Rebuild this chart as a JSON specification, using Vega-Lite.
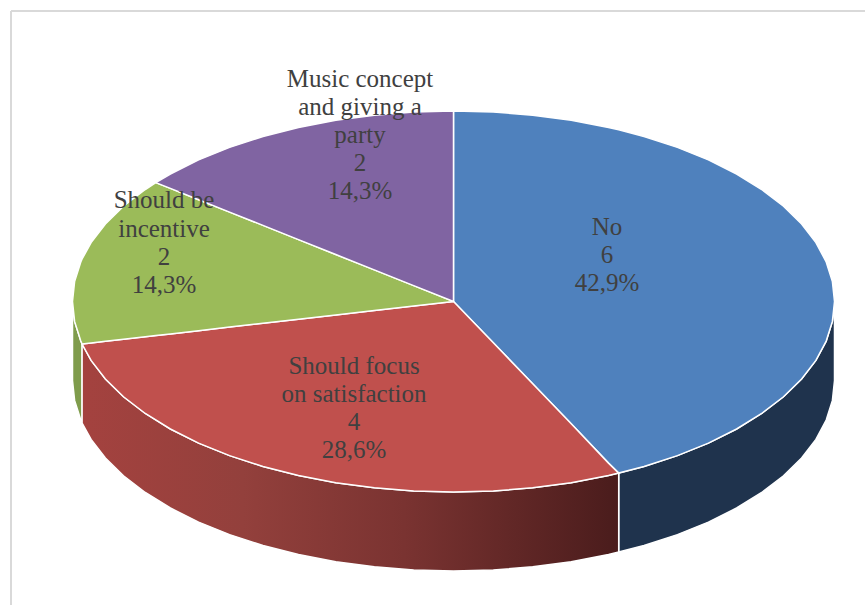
{
  "$schema": "https://vega.github.io/schema/vega-lite/v6.json",
  "width": 865,
  "height": 605,
  "padding": 0,
  "autosize": {"type": "none"},
  "background": "white",
  "view": {"stroke": null},
  "datasets": {
    "frame": [
      {"x": 10.5, "x2": 865, "y": 10.5, "y2": 10.5},
      {"x": 10.5, "x2": 10.5, "y": 10.5, "y2": 605}
    ],
    "walls": [
      {"slice": "No", "x": 618.2, "y": 472.6, "y2": 551.6},
      {"slice": "No", "x": 643.5, "y": 466, "y2": 545},
      {"slice": "No", "x": 676.9, "y": 455.1, "y2": 534.1},
      {"slice": "No", "x": 707.9, "y": 442.6, "y2": 521.6},
      {"slice": "No", "x": 736.1, "y": 428.5, "y2": 507.5},
      {"slice": "No", "x": 761.2, "y": 413, "y2": 492},
      {"slice": "No", "x": 783, "y": 396.3, "y2": 475.3},
      {"slice": "No", "x": 801.1, "y": 378.5, "y2": 457.5},
      {"slice": "No", "x": 815.4, "y": 359.9, "y2": 438.9},
      {"slice": "No", "x": 825.7, "y": 340.6, "y2": 419.6},
      {"slice": "No", "x": 831.9, "y": 320.9, "y2": 399.9},
      {"slice": "No", "x": 834, "y": 301, "y2": 380},
      {"slice": "Should be incentive", "x": 72, "y": 301, "y2": 380},
      {"slice": "Should be incentive", "x": 74.1, "y": 320.9, "y2": 399.9},
      {"slice": "Should be incentive", "x": 80.3, "y": 340.6, "y2": 419.6},
      {"slice": "Should be incentive", "x": 81.6, "y": 343.5, "y2": 422.5}
    ],
    "satisfactionWall": [
      {"x": 81.6, "y": 343.5, "y2": 422.5},
      {"x": 90.6, "y": 359.9, "y2": 438.9},
      {"x": 104.9, "y": 378.5, "y2": 457.5},
      {"x": 123, "y": 396.3, "y2": 475.3},
      {"x": 144.8, "y": 413, "y2": 492},
      {"x": 169.9, "y": 428.5, "y2": 507.5},
      {"x": 198.1, "y": 442.6, "y2": 521.6},
      {"x": 229.1, "y": 455.1, "y2": 534.1},
      {"x": 262.5, "y": 466, "y2": 545},
      {"x": 298, "y": 475, "y2": 554},
      {"x": 335.3, "y": 482.2, "y2": 561.2},
      {"x": 373.8, "y": 487.3, "y2": 566.3},
      {"x": 413.2, "y": 490.5, "y2": 569.5},
      {"x": 453, "y": 491.5, "y2": 570.5},
      {"x": 492.8, "y": 490.5, "y2": 569.5},
      {"x": 532.2, "y": 487.3, "y2": 566.3},
      {"x": 570.7, "y": 482.2, "y2": 561.2},
      {"x": 608, "y": 475, "y2": 554},
      {"x": 618.2, "y": 472.6, "y2": 551.6}
    ],
    "slices": [
      {"slice": "No", "x": 453, "y": 110.5, "y2": 301},
      {"slice": "No", "x": 492.8, "y": 111.5, "y2": 342.3},
      {"slice": "No", "x": 532.2, "y": 114.7, "y2": 383.3},
      {"slice": "No", "x": 570.7, "y": 119.8, "y2": 423.3},
      {"slice": "No", "x": 608, "y": 127, "y2": 462.6},
      {"slice": "No", "x": 618.2, "y": 129.3, "y2": 472.6},
      {"slice": "No", "x": 643.5, "y": 136, "y2": 466},
      {"slice": "No", "x": 676.9, "y": 146.9, "y2": 455.1},
      {"slice": "No", "x": 707.9, "y": 159.4, "y2": 442.6},
      {"slice": "No", "x": 736.1, "y": 173.5, "y2": 428.5},
      {"slice": "No", "x": 761.2, "y": 189, "y2": 413},
      {"slice": "No", "x": 783, "y": 205.7, "y2": 396.3},
      {"slice": "No", "x": 801.1, "y": 223.5, "y2": 378.5},
      {"slice": "No", "x": 815.4, "y": 242.1, "y2": 359.9},
      {"slice": "No", "x": 825.7, "y": 261.4, "y2": 340.6},
      {"slice": "No", "x": 831.9, "y": 281.1, "y2": 320.9},
      {"slice": "No", "x": 834, "y": 301, "y2": 301},
      {"slice": "Should focus on satisfaction", "x": 81.6, "y": 343.5, "y2": 343.5},
      {"slice": "Should focus on satisfaction", "x": 90.6, "y": 342.5, "y2": 359.9},
      {"slice": "Should focus on satisfaction", "x": 104.9, "y": 340.8, "y2": 378.5},
      {"slice": "Should focus on satisfaction", "x": 123, "y": 338.8, "y2": 396.3},
      {"slice": "Should focus on satisfaction", "x": 144.8, "y": 336.3, "y2": 413},
      {"slice": "Should focus on satisfaction", "x": 169.9, "y": 333.4, "y2": 428.5},
      {"slice": "Should focus on satisfaction", "x": 198.1, "y": 330.2, "y2": 442.6},
      {"slice": "Should focus on satisfaction", "x": 229.1, "y": 326.6, "y2": 455.1},
      {"slice": "Should focus on satisfaction", "x": 262.5, "y": 322.8, "y2": 466},
      {"slice": "Should focus on satisfaction", "x": 298, "y": 318.7, "y2": 475},
      {"slice": "Should focus on satisfaction", "x": 335.3, "y": 314.5, "y2": 482.2},
      {"slice": "Should focus on satisfaction", "x": 373.8, "y": 310.1, "y2": 487.3},
      {"slice": "Should focus on satisfaction", "x": 413.2, "y": 305.6, "y2": 490.5},
      {"slice": "Should focus on satisfaction", "x": 453, "y": 301, "y2": 491.5},
      {"slice": "Should focus on satisfaction", "x": 492.8, "y": 342.3, "y2": 490.5},
      {"slice": "Should focus on satisfaction", "x": 532.2, "y": 383.3, "y2": 487.3},
      {"slice": "Should focus on satisfaction", "x": 570.7, "y": 423.3, "y2": 482.2},
      {"slice": "Should focus on satisfaction", "x": 608, "y": 462.6, "y2": 475},
      {"slice": "Should focus on satisfaction", "x": 618.2, "y": 472.6, "y2": 472.6},
      {"slice": "Should be incentive", "x": 72, "y": 301, "y2": 301},
      {"slice": "Should be incentive", "x": 74.1, "y": 281.1, "y2": 320.9},
      {"slice": "Should be incentive", "x": 80.3, "y": 261.4, "y2": 340.6},
      {"slice": "Should be incentive", "x": 81.6, "y": 258.5, "y2": 343.5},
      {"slice": "Should be incentive", "x": 90.6, "y": 242.1, "y2": 342.5},
      {"slice": "Should be incentive", "x": 104.9, "y": 223.5, "y2": 340.8},
      {"slice": "Should be incentive", "x": 123, "y": 205.7, "y2": 338.8},
      {"slice": "Should be incentive", "x": 144.8, "y": 189, "y2": 336.3},
      {"slice": "Should be incentive", "x": 155.3, "y": 182.1, "y2": 335.1},
      {"slice": "Should be incentive", "x": 169.9, "y": 187.9, "y2": 333.4},
      {"slice": "Should be incentive", "x": 198.1, "y": 199.2, "y2": 330.2},
      {"slice": "Should be incentive", "x": 229.1, "y": 211.6, "y2": 326.6},
      {"slice": "Should be incentive", "x": 262.5, "y": 224.9, "y2": 322.8},
      {"slice": "Should be incentive", "x": 298, "y": 239.1, "y2": 318.7},
      {"slice": "Should be incentive", "x": 335.3, "y": 254, "y2": 314.5},
      {"slice": "Should be incentive", "x": 373.8, "y": 269.4, "y2": 310.1},
      {"slice": "Should be incentive", "x": 413.2, "y": 285.1, "y2": 305.6},
      {"slice": "Should be incentive", "x": 453, "y": 301, "y2": 301},
      {"slice": "Music concept and giving a party", "x": 155.3, "y": 182.1, "y2": 182.1},
      {"slice": "Music concept and giving a party", "x": 169.9, "y": 173.5, "y2": 187.9},
      {"slice": "Music concept and giving a party", "x": 198.1, "y": 159.4, "y2": 199.2},
      {"slice": "Music concept and giving a party", "x": 229.1, "y": 146.9, "y2": 211.6},
      {"slice": "Music concept and giving a party", "x": 262.5, "y": 136, "y2": 224.9},
      {"slice": "Music concept and giving a party", "x": 298, "y": 127, "y2": 239.1},
      {"slice": "Music concept and giving a party", "x": 335.3, "y": 119.8, "y2": 254},
      {"slice": "Music concept and giving a party", "x": 373.8, "y": 114.7, "y2": 269.4},
      {"slice": "Music concept and giving a party", "x": 413.2, "y": 111.5, "y2": 285.1},
      {"slice": "Music concept and giving a party", "x": 453, "y": 110.5, "y2": 301}
    ],
    "labels": [
      {"x": 359.5, "y": 78, "text": "Music concept"},
      {"x": 359.5, "y": 106, "text": "and giving a"},
      {"x": 359.5, "y": 134, "text": "party"},
      {"x": 359.5, "y": 162, "text": "2"},
      {"x": 359.5, "y": 190, "text": "14,3%"},
      {"x": 163.5, "y": 199, "text": "Should be"},
      {"x": 163.5, "y": 228, "text": "incentive"},
      {"x": 163.5, "y": 256, "text": "2"},
      {"x": 163.5, "y": 284, "text": "14,3%"},
      {"x": 606.5, "y": 226, "text": "No"},
      {"x": 606.5, "y": 254, "text": "6"},
      {"x": 606.5, "y": 282, "text": "42,9%"},
      {"x": 353.5, "y": 365, "text": "Should focus"},
      {"x": 353.5, "y": 393, "text": "on satisfaction"},
      {"x": 353.5, "y": 421, "text": "4"},
      {"x": 353.5, "y": 449, "text": "28,6%"}
    ]
  },
  "layer": [
    {
      "data": {"name": "frame"},
      "mark": {"type": "rule", "color": "#d9d9d9", "strokeWidth": 2},
      "encoding": {
        "x": {"field": "x", "type": "quantitative", "scale": {"domain": [-0.5, 864.5], "nice": false, "zero": false}, "axis": null},
        "x2": {"field": "x2"},
        "y": {"field": "y", "type": "quantitative", "scale": {"domain": [604.5, -0.5], "nice": false, "zero": false}, "axis": null},
        "y2": {"field": "y2"}
      }
    },
    {
      "data": {"name": "walls"},
      "mark": {"type": "area", "stroke": "white", "strokeWidth": 1.5},
      "encoding": {
        "x": {"field": "x", "type": "quantitative"},
        "y": {"field": "y", "type": "quantitative"},
        "y2": {"field": "y2"},
        "detail": {"field": "slice"},
        "color": {
          "field": "slice",
          "type": "nominal",
          "scale": {
            "domain": ["No", "Should focus on satisfaction", "Should be incentive", "Music concept and giving a party"],
            "range": ["#1f334d", "#be4e4b", "#7f9c4c", "#8061a0"]
          },
          "legend": null
        }
      }
    },
    {
      "data": {"name": "satisfactionWall"},
      "mark": {
        "type": "area",
        "stroke": "white",
        "strokeWidth": 1.5,
        "color": {
          "gradient": "linear",
          "x1": 0,
          "x2": 1,
          "y1": 0,
          "y2": 0,
          "stops": [
            {"offset": 0, "color": "#a4423f"},
            {"offset": 0.3, "color": "#93403c"},
            {"offset": 0.6, "color": "#7a3331"},
            {"offset": 1, "color": "#4a1c1c"}
          ]
        }
      },
      "encoding": {
        "x": {"field": "x", "type": "quantitative"},
        "y": {"field": "y", "type": "quantitative"},
        "y2": {"field": "y2"}
      }
    },
    {
      "data": {"name": "slices"},
      "mark": {"type": "area", "stroke": "white", "strokeWidth": 1.5},
      "encoding": {
        "x": {"field": "x", "type": "quantitative"},
        "y": {"field": "y", "type": "quantitative"},
        "y2": {"field": "y2"},
        "detail": {"field": "slice"},
        "color": {
          "field": "slice",
          "type": "nominal",
          "scale": {
            "domain": ["No", "Should focus on satisfaction", "Should be incentive", "Music concept and giving a party"],
            "range": ["#4f81bd", "#c0504d", "#9bbb59", "#8064a2"]
          },
          "legend": null
        }
      }
    },
    {
      "data": {"name": "labels"},
      "mark": {"type": "text", "font": "Liberation Serif", "fontSize": 25, "color": "#404040", "align": "center", "baseline": "middle"},
      "encoding": {
        "x": {"field": "x", "type": "quantitative"},
        "y": {"field": "y", "type": "quantitative"},
        "text": {"field": "text"}
      }
    }
  ],
  "resolve": {"scale": {"color": "independent"}}
}
